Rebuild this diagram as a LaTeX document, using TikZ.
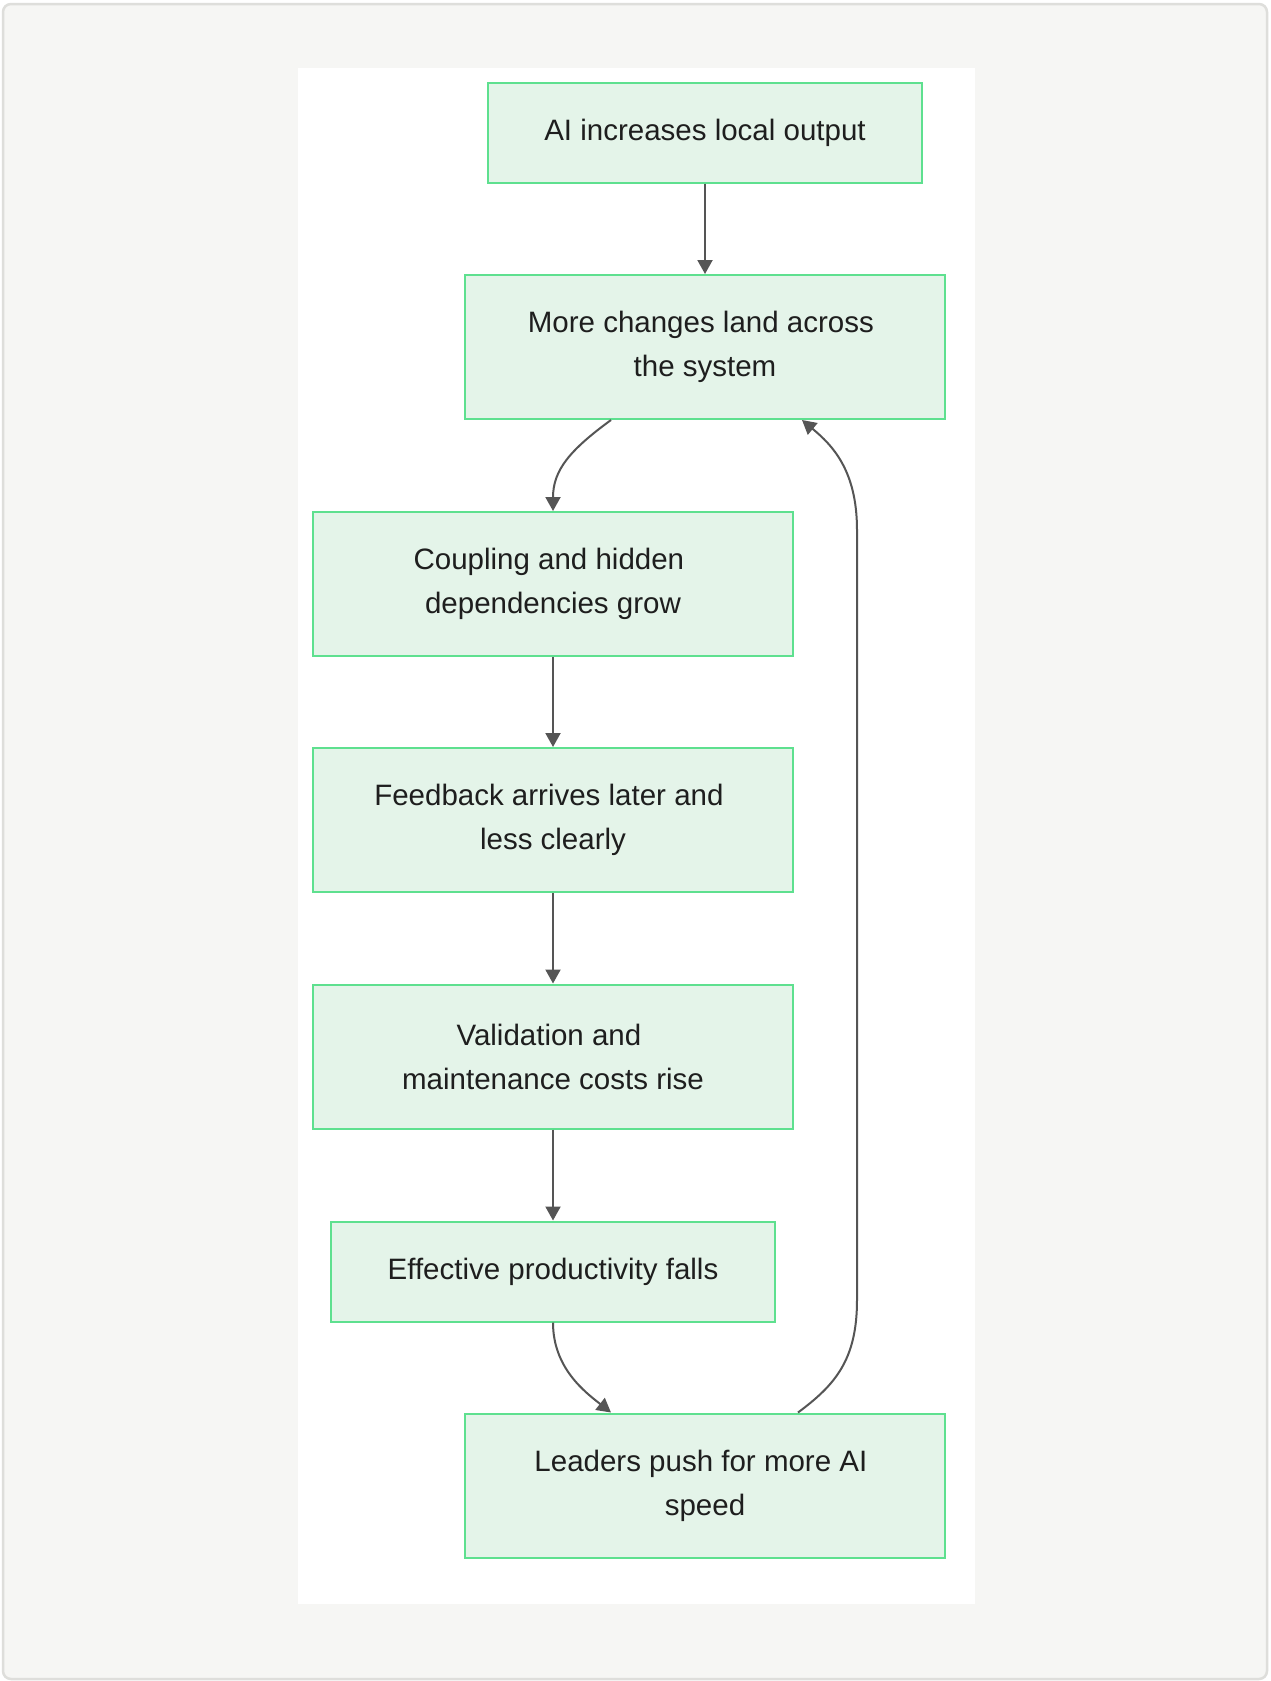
\documentclass[tikz,border=0pt]{standalone}
\usepackage{fontspec}
\setmainfont{Liberation Sans}
\usetikzlibrary{arrows.meta}
\definecolor{bgc}{HTML}{F6F6F4}
\definecolor{framec}{HTML}{DEDEDB}
\definecolor{boxfill}{HTML}{E4F4E9}
\definecolor{boxline}{HTML}{5EE08F}
\definecolor{arrc}{HTML}{555555}
\definecolor{txt}{HTML}{1E1E1E}
\newcommand{\tsp}{\kern8.2pt}
\begin{document}
\begin{tikzpicture}[x=1pt,y=-1pt,
  box/.style={draw=boxline, fill=boxfill, line width=2pt, align=center,
    font=\fontsize{29.5}{44}\selectfont, text=txt, inner sep=0pt},
  arr/.style={draw=arrc, line width=2pt, -{Triangle[length=14pt,width=15pt]}}]
\useasboundingbox (0,0) rectangle (1270,1681);
\fill[white] (0,0) rectangle (1270,1681);
\draw[framec, fill=bgc, line width=2.5pt, rounded corners=8pt] (3,4) rectangle (1267,1679);
\fill[white] (298,67.5) rectangle (975,1604);

\node[box, minimum width=434pt, minimum height=100pt] (n1) at (705,132.5) {AI increases local output};
\node[box, minimum width=480pt, minimum height=144pt] (n2) at (705,347) {More changes land across\tsp\\the system};
\node[box, minimum width=480pt, minimum height=144pt] (n3) at (553,584) {Coupling and hidden\tsp\\dependencies grow};
\node[box, minimum width=480pt, minimum height=144pt] (n4) at (553,820) {Feedback arrives later and\tsp\\less clearly};
\node[box, minimum width=480pt, minimum height=144pt] (n5) at (553,1056.5) {Validation and\tsp\\maintenance costs rise};
\node[box, minimum width=444pt, minimum height=100pt] (n6) at (553,1271.5) {Effective productivity falls};
\node[box, minimum width=480pt, minimum height=144pt] (n7) at (705,1485.5) {Leaders push for more AI\tsp\\speed};

\draw[arr] (n1.south) -- (n2.north);
\draw[arr] ([xshift=-94pt]n2.south) .. controls (570,450) and (553,470) .. (n3.north);
\draw[arr] (n3.south) -- (n4.north);
\draw[arr] (n4.south) -- (n5.north);
\draw[arr] (n5.south) -- (n6.north);
\draw[arr] (n6.south) .. controls (553,1368) and (585,1392) .. ([xshift=-94pt]n7.north);
\draw[arr] ([xshift=93pt]n7.north) .. controls (835,1385) and (857,1360) .. (857,1300)
  -- (857,530) .. controls (857,470) and (832,445) .. ([xshift=97pt]n2.south);
\end{tikzpicture}
\end{document}
